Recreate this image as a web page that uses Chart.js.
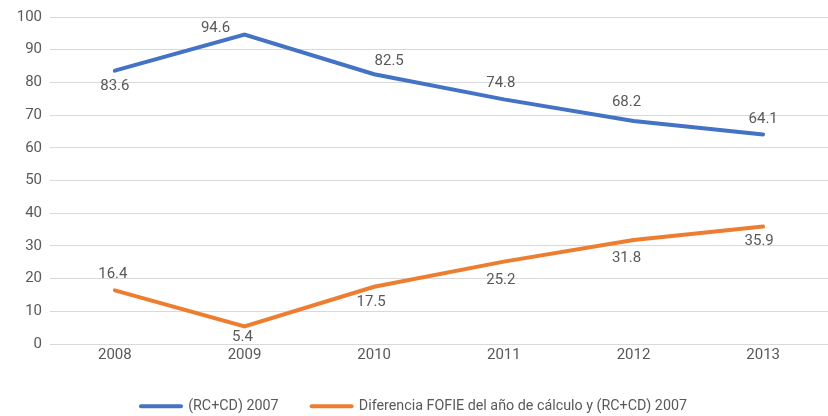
<!DOCTYPE html>
<html><head><meta charset="utf-8">
<script src="https://cdn.jsdelivr.net/npm/chart.js@4.4.1/dist/chart.umd.min.js"></script>
<style>html,body{margin:0;padding:0;background:#fff}#wrap{width:828px;height:416px;position:relative}</style>
</head><body><div id="wrap"><canvas id="c" width="828" height="416"></canvas></div>
<script>
const categories = ['2008','2009','2010','2011','2012','2013'];
const seriesA = [83.6, 94.6, 82.5, 74.8, 68.2, 64.1];
const seriesB = [16.4, 5.4, 17.5, 25.2, 31.8, 35.9];
const labelA = '(RC+CD) 2007';
const labelB = 'Diferencia FOFIE del año de cálculo y (RC+CD) 2007';

// label nudges relative to each point (style, not data)
const nudgeA = [[0,16],[-29,-6],[15,-13],[-3,-16],[-7,-19],[0,-15]];
const nudgeB = [[-2,-16],[-2,11],[-3,15],[-3,19],[-7,18],[-4,15]];

const FONT = 'Roboto, "Liberation Sans", sans-serif';
const TXT = '#595959';

const dataLabels = {
  id: 'dataLabels',
  afterDatasetsDraw(chart) {
    const ctx = chart.ctx;
    ctx.save();
    ctx.font = '15px ' + FONT;
    ctx.fillStyle = TXT;
    ctx.textAlign = 'center';
    ctx.textBaseline = 'middle';
    chart.data.datasets.forEach((ds, di) => {
      const meta = chart.getDatasetMeta(di);
      meta.data.forEach((pt, i) => {
        const n = ds.nudge[i];
        ctx.fillText(ds.data[i].toFixed(1), pt.x + n[0], pt.y + n[1]);
      });
    });
    ctx.restore();
  }
};

const legendHeight = {
  id: 'legendHeight',
  beforeLayout(chart) {
    const lg = chart.legend;
    if (lg && !lg._patched) {
      const f = lg.fit.bind(lg);
      lg.fit = function() { f(); this.height = 50; };
      lg._patched = true;
    }
  }
};

new Chart(document.getElementById('c'), {
  type: 'line',
  data: {
    labels: categories,
    datasets: [
      {label: labelA, data: seriesA, borderColor: '#4472C4', backgroundColor: '#4472C4', borderWidth: 4, pointRadius: 0, tension: 0, nudge: nudgeA, borderCapStyle: 'round'},
      {label: labelB, data: seriesB, borderColor: '#ED7D31', backgroundColor: '#ED7D31', borderWidth: 4, pointRadius: 0, tension: 0, nudge: nudgeB, borderCapStyle: 'round'}
    ]
  },
  options: {
    responsive: false,
    animation: false,
    events: [],
    layout: {padding: {top: 8, right: 0, left: 0, bottom: 0}},
    plugins: {
      tooltip: {enabled: false},
      legend: {
        position: 'bottom',
        labels: {
          font: {family: FONT, size: 14.3},
          color: TXT,
          usePointStyle: true,
          pointStyle: 'line',
          pointStyleWidth: 40,
          padding: 33,
          generateLabels(chart) {
            return chart.data.datasets.map((ds, i) => ({
              text: ds.label, fillStyle: ds.borderColor, strokeStyle: ds.borderColor,
              lineWidth: 4, lineCap: 'round', pointStyle: 'line', datasetIndex: i, hidden: false, fontColor: TXT
            }));
          }
        }
      }
    },
    scales: {
      x: {
        offset: true,
        grid: {display: false, drawTicks: false},
        border: {display: true, color: '#d9d9d9', width: 1},
        ticks: {font: {family: FONT, size: 15}, color: TXT, padding: 2}
      },
      y: {
        min: 0, max: 100,
        ticks: {stepSize: 10, font: {family: FONT, size: 15}, color: TXT, padding: 8},
        grid: {color: '#d9d9d9', drawTicks: false},
        border: {display: false},
        afterFit(s) { s.width = 50; }
      }
    }
  },
  plugins: [dataLabels, legendHeight]
});
</script></body></html>
